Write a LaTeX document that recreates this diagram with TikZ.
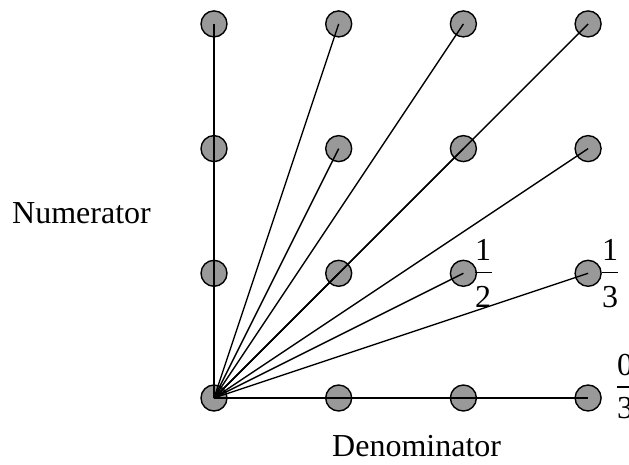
\documentclass[tikz,border=0pt]{standalone}
\usepackage{fontspec}
\setmainfont{Liberation Serif}
\begin{document}
\begin{tikzpicture}[x=1pt,y=-1pt,
  dot/.style={circle,draw=black,fill=black!40,line width=1.4pt,minimum size=26pt,inner sep=0pt},
  ray/.style={line width=1.4pt},
  bar/.style={line width=1.3pt},
  lbl/.style={font=\fontsize{32}{38}\selectfont,inner sep=0pt},
  digit/.style={lbl,anchor=base}]
\useasboundingbox (0,0) rectangle (629,464);
\clip (0,0) rectangle (629,464);
\foreach \i in {0,...,3}{\foreach \j in {0,...,3}{
  \node[dot] (c\i\j) at ({214+124.7*\i},{398-124.7*\j}) {};}}
\foreach \i/\j in {0/3,1/3,2/3,3/3,1/2,2/2,3/2,1/1,2/1,3/1,1/0,2/0,3/0}{
  \draw[ray] (c00.center) -- (c\i\j.center);}
% labels
\node[lbl,anchor=base west] (num) at (12,223) {Numerator};
\node[lbl,anchor=base west] (den) at (332,456) {Denominator};
% 1/2
\node[digit] (n12) at (483,260) {1};
\node[digit] (d12) at (483,307) {2};
\draw[bar] (475,272.5) -- (492,272.5);
% 1/3
\node[digit] (n13) at (610,260) {1};
\node[digit] (d13) at (610,307) {3};
\draw[bar] (602,272.5) -- (618,272.5);
% 0/3
\node[digit] (n03) at (625,375) {0};
\node[digit] (d03) at (625,418) {3};
\draw[bar] (617,387) -- (634,387);
\end{tikzpicture}
\end{document}
